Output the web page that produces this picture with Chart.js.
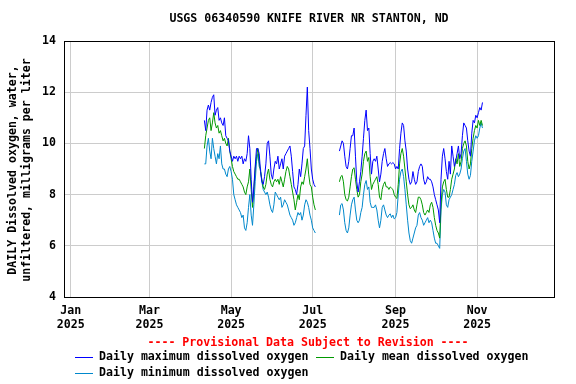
<!DOCTYPE html>
<html>
<head>
<meta charset="utf-8">
<script src="https://cdn.jsdelivr.net/npm/chart.js@4/dist/chart.umd.min.js"></script>
<style>
  html, body { margin: 0; padding: 0; background: #fff; }
  canvas { display: block; }
</style>
</head>
<body>
<canvas id="doChart" width="576" height="384"></canvas>
<script>
/*
  Daily dissolved oxygen, Knife River nr Stanton
  x values are days since 2025-01-01
*/

const seg1Start = 100;  // Apr 11
const seg2Start = 201;  // Jul 21

const maxSeg1 = [
  10.9, 10.5, 11.3, 11.5, 11.3, 11.6, 11.8, 11.9, 11.1, 11.3,
  11.4, 10.9, 11.0, 10.8, 10.7, 11.0, 10.3, 10.2, 10.1, 9.7,
  9.5, 9.3, 9.5, 9.4, 9.5, 9.3, 9.5, 9.4, 9.5, 9.2,
  9.4, 9.3, 9.6, 10.3, 9.8, 8.6, 7.7, 8.3, 9.1, 9.8,
  9.8, 9.6, 8.9, 8.5, 8.4, 8.7, 9.2, 10.0, 10.1, 9.5,
  8.8, 8.6, 9.0, 9.3, 9.2, 9.5, 9.0, 9.2, 9.4, 9.0,
  9.5, 9.6, 9.7, 9.8, 9.9, 9.5, 8.9, 8.3, 8.2, 8.0,
  8.4, 9.0, 8.7, 9.2, 9.8, 9.9, 11.1, 12.2, 10.5, 9.8,
  9.0, 8.6, 8.4, 8.3
];
const meanSeg1 = [
  9.8, 10.3, 10.6, 10.9, 11.0, 10.5, 10.8, 11.2, 10.8, 10.6,
  10.7, 10.4, 10.5, 10.3, 10.1, 10.2, 10.0, 9.9, 10.2, 9.7,
  9.4, 9.1, 8.9, 8.8, 8.7, 8.6, 8.6, 8.5, 8.4, 8.3,
  8.1, 8.0, 8.3, 8.5, 9.0, 8.2, 7.5, 8.2, 9.0, 9.5,
  9.8, 9.3, 8.9, 8.6, 8.3, 8.2, 8.4, 8.8, 9.0, 8.6,
  8.4, 8.3, 8.5, 8.6, 8.5, 8.6, 8.4, 8.7, 8.5, 8.3,
  8.6, 8.9, 9.1, 9.0, 8.7, 8.4, 8.1, 7.8, 7.4, 7.7,
  8.0, 7.8, 8.3, 8.5, 8.4, 8.7, 9.0, 9.4, 8.8, 8.4,
  8.3, 7.9, 7.6, 7.4
];
const minSeg1 = [
  9.2, 9.2, 9.9, 10.2, 9.7, 9.4, 10.2, 9.8, 9.5, 9.2,
  9.6, 9.4, 9.9, 9.2, 9.0, 9.0, 8.8, 8.7, 9.0, 9.1,
  8.9, 8.6, 8.0, 7.8, 7.6, 7.5, 7.4, 7.3, 7.1, 7.2,
  6.7, 6.6, 6.9, 7.5, 8.0, 7.2, 6.8, 7.6, 8.5, 9.3,
  9.6, 9.1, 9.0, 8.5, 8.2, 8.1, 8.0, 8.1, 7.9, 7.6,
  7.4, 7.3, 7.6, 8.1, 8.0, 7.9, 7.8, 7.9, 7.5, 7.6,
  7.8, 7.7, 7.6, 7.4, 7.2, 7.1, 7.0, 6.8, 6.9, 7.1,
  7.3, 7.2, 7.3, 7.0, 7.2, 7.6, 7.8, 7.7, 7.5, 7.2,
  7.0, 6.7, 6.6, 6.5
];

const maxSeg2 = [
  9.7, 9.9, 10.1, 10.0, 9.5, 9.1, 9.0, 9.3, 9.8, 10.3,
  10.3, 10.6, 9.5, 8.5, 8.1, 8.5, 8.9, 9.5, 10.2, 10.9,
  11.3, 10.5, 10.6, 9.6, 8.8, 9.3, 9.4, 9.3, 9.5, 9.0,
  8.5, 8.8, 9.3, 9.6, 9.8, 9.4, 9.1, 9.2, 9.25, 9.2,
  9.25, 9.2, 9.0, 9.1, 9.0, 9.8, 10.4, 10.8, 10.7, 10.1,
  9.7, 9.0, 8.6, 8.4, 8.5, 8.9, 8.6, 8.4, 8.5, 8.9,
  9.1, 9.2, 9.1, 8.6, 8.4, 8.5, 8.7, 8.6, 8.6, 8.5,
  8.3, 8.0, 7.8, 7.6, 7.4, 6.9, 8.6, 9.5, 9.8, 9.4,
  8.9, 8.6, 9.3, 8.8, 9.9, 9.5, 9.1, 9.3, 9.6, 9.9,
  9.4, 9.6, 10.3, 10.8, 10.7, 10.6, 10.1, 9.7, 9.5, 10.4,
  10.9, 10.8, 11.1, 11.0, 11.2, 11.4, 11.3, 11.6
];
const meanSeg2 = [
  8.5, 8.7, 8.75, 8.5, 8.0, 7.8, 7.75, 7.9, 8.3, 8.7,
  9.0, 9.05, 8.6, 8.2, 7.9, 8.0, 8.5, 8.8, 9.3, 9.6,
  9.7, 9.3, 9.45, 8.7, 8.2, 8.4, 8.5, 8.6, 8.7, 8.4,
  7.9, 7.8, 8.2, 8.4, 8.5, 8.3, 8.3, 8.2, 8.3, 8.25,
  8.2, 8.0, 7.9, 7.85, 8.4, 9.2, 9.6, 9.8, 9.5, 9.0,
  8.5, 8.0, 7.6, 7.45, 7.5, 7.6, 7.4, 7.3, 7.6, 7.9,
  7.9, 7.8, 7.6, 7.3, 7.2, 7.3, 7.4, 7.3, 7.6, 7.7,
  7.5, 7.1, 6.8, 6.6, 6.5, 6.3, 7.6, 8.3, 8.5, 8.6,
  8.2, 7.9, 7.9, 8.2, 8.6, 8.8, 9.0, 9.4, 9.2, 9.6,
  9.1, 9.3, 9.8, 10.0, 10.1, 9.9, 9.3, 9.0, 9.2, 9.8,
  10.2, 10.5, 10.7, 10.6, 10.9, 10.7, 10.9, 10.7
];
const minSeg2 = [
  7.2, 7.6, 7.65, 7.4, 6.9, 6.6, 6.5, 6.7, 7.2, 7.6,
  7.8, 7.9, 7.4, 7.0, 6.9, 7.0, 7.3, 7.5, 8.0, 8.4,
  8.55, 8.2, 8.3, 7.7, 7.5, 7.5, 7.5, 7.6, 7.4, 7.0,
  6.7, 7.0, 7.5, 7.6, 7.4, 7.2, 7.1, 7.2, 7.25, 7.1,
  7.2, 7.05, 7.1, 7.3, 8.0, 8.6, 8.9, 9.0, 8.7, 8.2,
  7.6, 7.0, 6.5, 6.2, 6.1, 6.3, 6.5, 6.7, 6.8, 7.2,
  7.3, 7.1, 7.0, 6.8, 6.9, 7.0, 7.1, 6.9, 7.0, 6.9,
  6.6, 6.3, 6.1, 6.1, 6.0, 5.9, 7.4, 8.0, 8.2, 8.1,
  7.6, 7.5, 7.8, 7.9, 8.0, 8.2, 8.4, 8.75, 8.86, 8.7,
  8.8, 9.0, 9.4, 9.7, 9.8, 9.3, 8.8, 8.6, 8.75, 9.3,
  9.7, 10.1, 10.3, 10.2, 10.3, 10.6, 10.8, 10.6
];

// x axis ticks (day of year) and labels
const tickDays = [0, 59, 120, 181, 243, 304];
const tickMonths = ['Jan', 'Mar', 'May', 'Jul', 'Sep', 'Nov'];
const tickYear = '2025';

const titleText = 'USGS 06340590 KNIFE RIVER NR STANTON, ND';
const yTitleLines = ['DAILY Dissolved oxygen, water,', 'unfiltered, milligrams per liter'];
const provisionalText = '---- Provisional Data Subject to Revision ----';
const seriesNames = ['Daily maximum dissolved oxygen', 'Daily mean dissolved oxygen', 'Daily minimum dissolved oxygen'];
const seriesColors = ['#0000ff', '#009900', '#0088cc'];

const FONT_FAMILY = "'DejaVu Sans Mono', monospace";
const FONT_SIZE = 11.6;

// join two segments with a null point to leave the gap in July
function buildPoints(seg1, seg2) {
  const pts = seg1.map((v, i) => ({ x: seg1Start + i, y: v }));
  pts.push({ x: seg1Start + seg1.length + 1, y: null });
  seg2.forEach((v, i) => pts.push({ x: seg2Start + i, y: v }));
  return pts;
}

const seriesData = [
  buildPoints(maxSeg1, maxSeg2),
  buildPoints(meanSeg1, meanSeg2),
  buildPoints(minSeg1, minSeg2)
];

// Frame, title, axis title and legend are drawn by hand
const decorPlugin = {
  id: 'decor',
  afterDraw(chart) {
    const ctx = chart.ctx;
    const area = chart.chartArea;
    ctx.save();

    ctx.strokeStyle = '#000';
    ctx.lineWidth = 1;
    ctx.strokeRect(area.left + 0.5, area.top + 0.5, area.right - area.left, area.bottom - area.top);

    ctx.font = `bold ${FONT_SIZE}px ${FONT_FAMILY}`;
    ctx.fillStyle = '#000';
    ctx.textBaseline = 'middle';
    ctx.textAlign = 'center';
    ctx.fillText(titleText, 309, 19);

    // rotated y title
    ctx.save();
    ctx.translate(13, 170);
    ctx.rotate(-Math.PI / 2);
    ctx.fillText(yTitleLines[0], 0, 0);
    ctx.fillText(yTitleLines[1], 0, 14);
    ctx.restore();

    ctx.fillStyle = '#ff0000';
    ctx.fillText(provisionalText, 308, 343);

    const items = [
      { x: 75, y: 357 },
      { x: 316, y: 357 },
      { x: 75, y: 373 }
    ];
    ctx.textAlign = 'left';
    items.forEach((it, i) => {
      ctx.fillStyle = seriesColors[i];
      ctx.fillRect(it.x, it.y, 18, 1);
      ctx.fillStyle = '#000';
      ctx.fillText(seriesNames[i], it.x + 24, it.y);
    });

    ctx.restore();
  }
};

const tickFont = { family: FONT_FAMILY, size: FONT_SIZE, weight: 'bold' };

new Chart(document.getElementById('doChart'), {
  type: 'line',
  data: {
    datasets: seriesData.map((pts, i) => ({
      label: seriesNames[i],
      data: pts,
      borderColor: seriesColors[i],
      backgroundColor: seriesColors[i],
      borderWidth: 1,
      pointRadius: 0,
      tension: 0,
      spanGaps: false,
      fill: false
    }))
  },
  options: {
    responsive: false,
    devicePixelRatio: 1,
    animation: false,
    layout: { padding: { left: 0, top: 41, right: 22, bottom: 0 } },
    plugins: {
      legend: { display: false },
      title: { display: false },
      tooltip: { enabled: false }
    },
    scales: {
      x: {
        type: 'linear',
        min: -5,
        max: 361.5,
        border: { display: false },
        grid: { color: '#cccccc', drawTicks: false },
        ticks: {
          font: tickFont,
          color: '#000',
          padding: 7,
          maxRotation: 0,
          autoSkip: false,
          callback: (value, index) => [tickMonths[index], tickYear]
        },
        afterBuildTicks: scale => {
          scale.ticks = tickDays.map(d => ({ value: d }));
        },
        afterFit: scale => { scale.height = 87; }
      },
      y: {
        min: 4,
        max: 14,
        border: { display: false },
        grid: { color: '#cccccc', drawTicks: false },
        ticks: {
          stepSize: 2,
          font: tickFont,
          color: '#000',
          padding: 8
        },
        afterFit: scale => { scale.width = 64; }
      }
    }
  },
  plugins: [decorPlugin]
});
</script>
</body>
</html>
